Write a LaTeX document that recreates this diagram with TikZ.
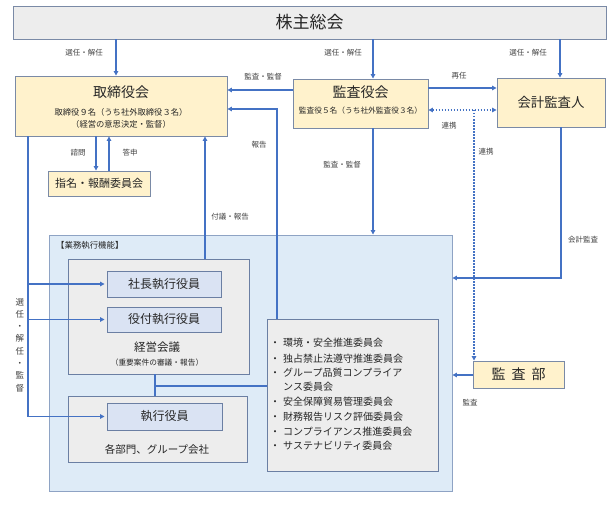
\documentclass[tikz,border=0pt]{standalone}
\usepackage{fontspec}
\setmainfont{Noto Sans CJK JP}
\usetikzlibrary{arrows.meta}
\definecolor{lblue}{HTML}{4472C4}
\definecolor{cream}{HTML}{FFF2CC}
\definecolor{lgray}{HTML}{EDEDED}
\definecolor{pblue}{HTML}{DEEBF7}
\definecolor{rblue}{HTML}{DAE3F3}
\definecolor{bordA}{HTML}{7A8AA6}
\definecolor{bordB}{HTML}{8EA3C4}
\definecolor{bordC}{HTML}{6B7FA3}
\definecolor{txt}{HTML}{262626}
\definecolor{ltxt}{HTML}{404040}
\newcommand{\fs}[1]{\fontsize{#1}{#1}\selectfont}
\tikzset{
  ln/.style={draw=lblue, line width=1.3pt},
  arr/.style={ln, -{Triangle[length=4.5pt,width=4.5pt]}},
  dotl/.style={draw=lblue, line width=1.5pt, dash pattern=on 1.5pt off 1.5pt},
  bx/.style={inner sep=0pt, line width=0.9pt, text=txt},
  creambox/.style={bx, draw=bordA, fill=cream},
  graybox/.style={bx, draw=bordC, fill=lgray},
  rolebox/.style={bx, draw=bordC, fill=rblue},
  lbl/.style={inner sep=0pt, text=ltxt, font=\fs{7.5}},
  tx/.style={inner sep=0pt, text=txt}
}
\begin{document}
\begin{tikzpicture}[x=1pt,y=-1pt]
\useasboundingbox (0,0) rectangle (615,508);
% guides
\coordinate (g116) at (116,0);
\coordinate (g373) at (373,0);
\coordinate (g560) at (560,0);
\coordinate (g277) at (277,0);
\coordinate (g205) at (205,0);
\coordinate (g96) at (96,0);
\coordinate (g109) at (109,0);
\coordinate (g28) at (28,0);
\coordinate (g155) at (155,0);
\coordinate (g474) at (474,0);
\coordinate (g561) at (561,0);
\coordinate (h90) at (0,90);
\coordinate (h109) at (0,109);
\coordinate (h88) at (0,88);
\coordinate (h110) at (0,110);
\coordinate (h278) at (0,278);
\coordinate (h375) at (0,375);
\coordinate (h386) at (0,386);

% boxes
\node[graybox, draw=bordA, minimum width=593pt, minimum height=33pt] (kabu) at (309.5,22.5) {\fs{17}株主総会};
\node[creambox, minimum width=212pt, minimum height=60pt] (tori) at (121,106) {};
\node[tx, font=\fs{14}] (toriT) at (121,92) {取締役会};
\node[tx, font=\fs{8.3}] (toriS1) at (121,112) {取締役９名（うち社外取締役３名）};
\node[tx, font=\fs{8.3}] (toriS2) at (121,124) {（経営の意思決定・監督）};
\node[creambox, minimum width=135pt, minimum height=49pt] (kansa) at (360.5,103.5) {};
\node[tx, font=\fs{14}] (kansaT) at (360.5,92) {監査役会};
\node[tx, font=\fs{7.7}] (kansaS) at (360.5,111) {監査役５名（うち社外監査役３名）};
\node[creambox, minimum width=108pt, minimum height=49pt] (kaikei) at (551,102.5) {\fs{13.4}会計監査人};
\node[creambox, minimum width=102pt, minimum height=25pt] (shimei) at (99,183.5) {\fs{11}指名・報酬委員会};

\node[bx, draw=bordB, fill=pblue, minimum width=403pt, minimum height=256pt] (gyomu) at (250.5,363) {};
\node[tx, anchor=west, font=\fs{8.4}] (gyomuL) at (56,245) {【業務執行機能】};

\node[graybox, minimum width=181pt, minimum height=115pt] (keiei) at (158.5,316.5) {};
\node[rolebox, minimum width=114pt, minimum height=26pt] (shacho) at (164,284) {\fs{12}社長執行役員};
\node[rolebox, minimum width=114pt, minimum height=25pt] (yaku) at (164,319.5) {\fs{12}役付執行役員};
\node[tx, font=\fs{11.5}] (keieiT) at (157,347) {経営会議};
\node[tx, font=\fs{7.7}] (keieiS) at (157,363) {（重要案件の審議・報告）};

\node[graybox, minimum width=179pt, minimum height=66pt] (shikko) at (157.5,429) {};
\node[rolebox, minimum width=115pt, minimum height=27pt] (shikkoin) at (164.5,416.5) {\fs{12}執行役員};
\node[tx, font=\fs{10.5}] (shikkoT) at (157,449) {各部門、グループ会社};

\node[graybox, minimum width=171pt, minimum height=152pt] (iinkai) at (352.5,395) {};
\node[tx, anchor=west, font=\fs{10}] (i1) at (270,343) {\makebox[13pt][l]{・}環境・安全推進委員会};
\node[tx, anchor=west, font=\fs{10}] (i2) at (270,358.5) {\makebox[13pt][l]{・}独占禁止法遵守推進委員会};
\node[tx, anchor=west, font=\fs{10}] (i3) at (270,373) {\makebox[13pt][l]{・}グループ品質コンプライア};
\node[tx, anchor=west, font=\fs{10}] (i3b) at (283,387) {ンス委員会};
\node[tx, anchor=west, font=\fs{10}] (i4) at (270,402) {\makebox[13pt][l]{・}安全保障貿易管理委員会};
\node[tx, anchor=west, font=\fs{10}] (i5) at (270,416.5) {\makebox[13pt][l]{・}財務報告リスク評価委員会};
\node[tx, anchor=west, font=\fs{10}] (i6) at (270,431.5) {\makebox[13pt][l]{・}コンプライアンス推進委員会};
\node[tx, anchor=west, font=\fs{10}] (i7) at (270,446) {\makebox[13pt][l]{・}サステナビリティ委員会};

\node[creambox, minimum width=91pt, minimum height=27pt] (kansabu) at (518.5,374.5) {\fs{14}監\hspace{6pt}査\hspace{6pt}部};

% connectors
\draw[arr] (kabu.south -| g116) -- (tori.north -| g116);
\draw[arr] (kabu.south -| g373) -- (kansa.north -| g373);
\draw[arr] (kabu.south -| g560) -- (kaikei.north -| g560);
\draw[arr] (kansa.west |- h90) -- (tori.east |- h90);
\draw[arr] (iinkai.north -| g277) |- (tori.east |- h109);
\draw[arr] (kansa.south -| g373) -- (gyomu.north -| g373);
\draw[arr] (kansa.east |- h88) -- (kaikei.west |- h88);
\draw[dotl, {Triangle[length=4.5pt,width=4.5pt]}-{Triangle[length=4.5pt,width=4.5pt]}] (kansa.east |- h110) -- (kaikei.west |- h110);
\draw[dotl, -{Triangle[length=4.5pt,width=4.5pt]}] (g474 |- h110) -- (kansabu.north -| g474);
\draw[arr] (kaikei.south -| g561) |- (gyomu.east |- h278);
\draw[arr] (kansabu.west |- h375) -- (gyomu.east |- h375);
\draw[arr] (keiei.north -| g205) -- (tori.south -| g205);
\draw[arr] (tori.south -| g96) -- (shimei.north -| g96);
\draw[arr] (shimei.north -| g109) -- (tori.south -| g109);
\draw[arr, shorten >=2pt] (tori.south -| g28) |- (shikkoin.west);
\draw[arr, shorten >=2pt] (g28 |- shacho.west) -- (shacho.west);
\draw[arr, shorten >=2pt] (g28 |- yaku.west) -- (yaku.west);
\draw[ln] (keiei.south -| g155) -- (shikko.north -| g155);
\draw[ln] (g155 |- h386) -- (iinkai.west |- h386);

% labels
\node[lbl] (l1) at (84,53) {選任・解任};
\node[lbl] (l2) at (343,53) {選任・解任};
\node[lbl] (l3) at (528,53) {選任・解任};
\node[lbl] (l4) at (263,77) {監査・監督};
\node[lbl] (l5) at (459,76) {再任};
\node[lbl] (l6) at (449,126) {連携};
\node[lbl] (l7) at (486,152) {連携};
\node[lbl] (l8) at (259,145) {報告};
\node[lbl] (l9) at (342,165) {監査・監督};
\node[lbl] (l10) at (78,153) {諮問};
\node[lbl] (l11) at (130,153) {答申};
\node[lbl] (l12) at (230,217) {付議・報告};
\node[lbl] (l13) at (583,240) {会計監査};
\node[lbl] (l14) at (470,403) {監査};
\node[lbl, font=\fontsize{8.5}{12.3}\selectfont, align=center] (l15) at (20,345) {選\\任\\・\\解\\任\\・\\監\\督};
\end{tikzpicture}
\end{document}
